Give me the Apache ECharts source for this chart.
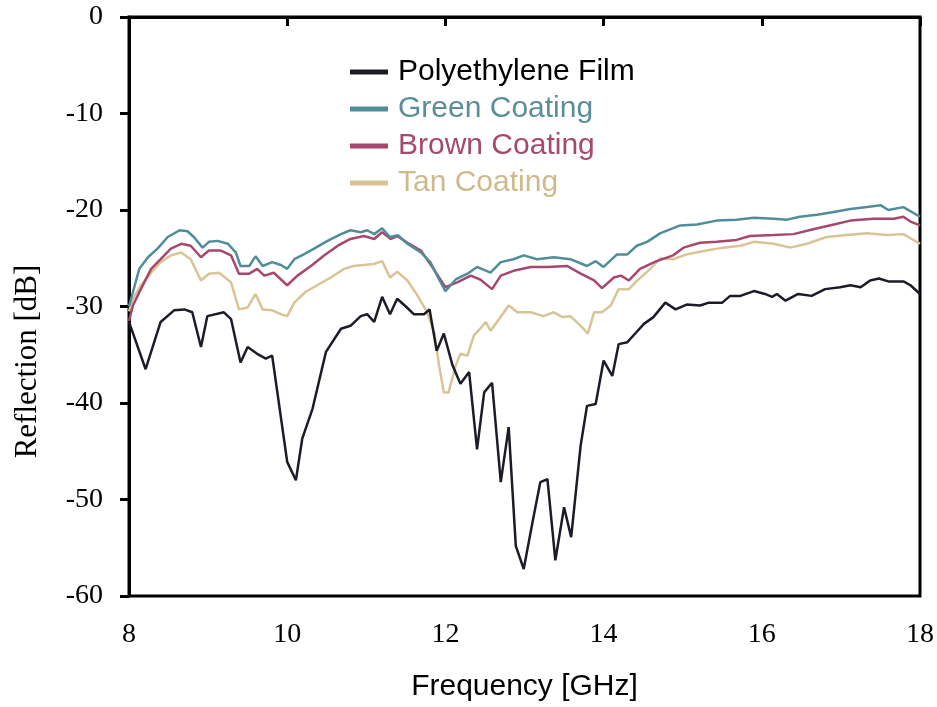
<!DOCTYPE html>
<html>
<head>
<meta charset="utf-8">
<title>Reflection vs Frequency</title>
<script src="https://cdn.jsdelivr.net/npm/echarts@6/dist/echarts.min.js"></script>
<style>
  html, body { margin: 0; padding: 0; background: #fff; }
  #chart { width: 937px; height: 707px; }
</style>
</head>
<body>
<div id="chart"></div>
<script>
// frequency (GHz) / reflection (dB)
const filmFreq = [8.00, 8.21, 8.40, 8.57, 8.70, 8.80, 8.91, 8.99, 9.20, 9.29, 9.41, 9.50, 9.62, 9.73, 9.81,
  10.00, 10.11, 10.19, 10.32, 10.49, 10.68, 10.80, 10.93, 11.01, 11.10, 11.20, 11.30, 11.39, 11.50, 11.60,
  11.73, 11.80, 11.89, 11.98, 12.09, 12.19, 12.30, 12.40, 12.49, 12.59, 12.70, 12.80, 12.89, 12.99, 13.10,
  13.20, 13.29, 13.39, 13.50, 13.59, 13.71, 13.79, 13.90, 14.00, 14.11, 14.19, 14.30, 14.40, 14.51, 14.63,
  14.78, 14.91, 15.05, 15.22, 15.33, 15.50, 15.60, 15.73, 15.90, 16.04, 16.13, 16.19, 16.30, 16.46, 16.63,
  16.80, 16.99, 17.12, 17.25, 17.37, 17.48, 17.60, 17.79, 17.88, 18.00];
const filmDb = [-31.6, -36.5, -31.6, -30.4, -30.3, -30.6, -34.2, -31.0, -30.6, -31.3, -35.8, -34.2, -34.9, -35.4, -35.1,
  -46.1, -48.0, -43.7, -40.6, -34.7, -32.3, -32.0, -31.0, -30.8, -31.6, -29.0, -30.8, -29.2, -30.0, -30.8,
  -30.8, -30.3, -34.6, -32.8, -36.1, -38.0, -36.8, -44.8, -38.9, -37.9, -48.2, -42.5, -54.8, -57.2, -52.4,
  -48.2, -47.9, -56.3, -50.8, -53.9, -44.4, -40.3, -40.1, -35.6, -37.2, -33.9, -33.7, -32.8, -31.8, -31.1,
  -29.6, -30.3, -29.8, -29.9, -29.6, -29.6, -28.9, -28.9, -28.4, -28.7, -29.0, -28.7, -29.4, -28.7, -28.9,
  -28.2, -28.0, -27.8, -28.0, -27.3, -27.1, -27.4, -27.4, -27.8, -28.7];

const greenFreq = [8.00, 8.05, 8.13, 8.24, 8.36, 8.49, 8.64, 8.74, 8.82, 8.93, 9.01, 9.12, 9.25, 9.35, 9.41,
  9.52, 9.60, 9.69, 9.81, 9.92, 10.00, 10.09, 10.21, 10.34, 10.51, 10.68, 10.80, 10.93, 11.01, 11.10,
  11.20, 11.30, 11.40, 11.52, 11.69, 11.81, 11.92, 12.00, 12.13, 12.28, 12.40, 12.57, 12.70, 12.86, 12.99,
  13.16, 13.37, 13.58, 13.79, 13.90, 14.00, 14.17, 14.30, 14.42, 14.55, 14.72, 14.97, 15.18, 15.43, 15.68,
  15.90, 16.15, 16.32, 16.48, 16.70, 16.91, 17.12, 17.33, 17.50, 17.60, 17.79, 18.00];
const greenDb = [-30.0, -28.5, -26.1, -24.9, -24.0, -22.8, -22.1, -22.2, -22.8, -23.9, -23.3, -23.2, -23.5, -24.4, -25.8,
  -25.8, -24.8, -25.8, -25.4, -25.7, -26.1, -25.1, -24.6, -24.0, -23.2, -22.5, -22.1, -22.3, -22.1, -22.5,
  -21.9, -22.8, -22.6, -23.5, -24.4, -25.4, -27.2, -28.4, -27.2, -26.6, -25.9, -26.5, -25.4, -25.1, -24.7,
  -25.1, -24.9, -25.1, -25.8, -25.3, -25.9, -24.6, -24.6, -23.7, -23.3, -22.4, -21.6, -21.5, -21.1, -21.0,
  -20.8, -20.9, -21.0, -20.7, -20.5, -20.2, -19.9, -19.7, -19.5, -20.0, -19.7, -20.7];

const brownFreq = [8.00, 8.05, 8.15, 8.28, 8.40, 8.53, 8.66, 8.78, 8.91, 9.01, 9.16, 9.29, 9.39, 9.52, 9.62,
  9.71, 9.83, 10.00, 10.13, 10.30, 10.47, 10.64, 10.80, 10.97, 11.10, 11.20, 11.31, 11.39, 11.52, 11.69,
  11.85, 12.00, 12.15, 12.32, 12.44, 12.59, 12.70, 12.86, 13.08, 13.29, 13.54, 13.71, 13.88, 13.98, 14.13,
  14.22, 14.32, 14.46, 14.67, 14.88, 15.01, 15.22, 15.43, 15.68, 15.85, 16.15, 16.40, 16.65, 16.91, 17.12,
  17.41, 17.67, 17.79, 17.88, 18.00];
const brownDb = [-31.5, -29.9, -28.2, -26.1, -25.1, -24.0, -23.5, -23.7, -24.9, -24.2, -24.2, -24.7, -26.6, -26.6, -26.1,
  -26.8, -26.5, -27.8, -26.8, -25.8, -24.7, -23.7, -23.0, -22.7, -23.0, -22.3, -23.0, -22.7, -23.4, -24.2,
  -26.1, -28.0, -27.5, -26.8, -27.2, -28.2, -26.8, -26.3, -25.9, -25.9, -25.8, -26.6, -27.3, -28.1, -27.0,
  -26.8, -27.3, -26.1, -25.3, -24.7, -23.9, -23.4, -23.3, -23.1, -22.7, -22.6, -22.5, -22.0, -21.5, -21.1,
  -20.9, -20.9, -20.7, -21.2, -21.6];

const tanFreq = [8.00, 8.05, 8.15, 8.28, 8.40, 8.53, 8.66, 8.78, 8.91, 9.01, 9.14, 9.29, 9.39, 9.50, 9.60,
  9.69, 9.81, 9.92, 10.00, 10.09, 10.23, 10.38, 10.55, 10.72, 10.84, 10.97, 11.10, 11.20, 11.30, 11.39,
  11.52, 11.65, 11.77, 11.86, 11.92, 11.98, 12.04, 12.13, 12.19, 12.28, 12.36, 12.44, 12.51, 12.57, 12.68,
  12.80, 12.91, 13.08, 13.24, 13.37, 13.48, 13.58, 13.71, 13.80, 13.88, 13.98, 14.09, 14.19, 14.32, 14.44,
  14.59, 14.72, 14.88, 15.05, 15.30, 15.51, 15.73, 15.90, 16.15, 16.36, 16.57, 16.82, 17.07, 17.33, 17.58,
  17.79, 18.00];
const tanDb = [-30.5, -29.2, -27.8, -26.5, -25.4, -24.7, -24.4, -25.1, -27.3, -26.6, -26.5, -27.5, -30.3, -30.1, -28.7,
  -30.3, -30.4, -30.8, -31.0, -29.6, -28.5, -27.8, -27.0, -26.1, -25.8, -25.7, -25.6, -25.3, -27.0, -26.4,
  -27.3, -28.9, -30.6, -32.7, -36.1, -38.9, -38.9, -36.1, -34.9, -35.1, -33.0, -32.3, -31.6, -32.5, -31.3,
  -29.9, -30.6, -30.6, -31.0, -30.6, -31.1, -31.0, -32.0, -32.8, -30.6, -30.6, -29.9, -28.2, -28.2, -27.2,
  -26.1, -25.0, -25.1, -24.6, -24.2, -23.9, -23.7, -23.3, -23.5, -23.9, -23.5, -22.8, -22.6, -22.4, -22.6,
  -22.5, -23.5];

const seriesNames = ['Polyethylene Film', 'Green Coating', 'Brown Coating', 'Tan Coating'];
const lineColors = ['#1c1c28', '#4f8d9a', '#a8476e', '#d8c496'];
const textColors = ['#000000', '#5a8e99', '#a54a6d', '#cfba8c'];

const zip = (xs, ys) => xs.map((x, i) => [x, ys[i]]);
const allData = [
  zip(filmFreq, filmDb),
  zip(greenFreq, greenDb),
  zip(brownFreq, brownDb),
  zip(tanFreq, tanDb)
];

const chart = echarts.init(document.getElementById('chart'));

const serif = '"Liberation Serif", "Times New Roman", serif';
const sans = '"Liberation Sans", Arial, sans-serif';

const option = {
  animation: false,
  backgroundColor: '#ffffff',
  grid: {
    left: 129,
    right: 17,
    top: 17,
    bottom: 110,
    show: true,
    borderColor: '#000',
    borderWidth: 3
  },
  legend: {
    orient: 'vertical',
    left: 345,
    top: 52,
    itemWidth: 38,
    itemHeight: 5,
    itemGap: 7,
    icon: 'rect',
    textStyle: {
      fontFamily: sans,
      fontSize: 30,
      padding: [0, 0, 0, 5]
    },
    data: seriesNames.map((n, i) => ({
      name: n,
      itemStyle: { color: lineColors[i] },
      textStyle: { color: textColors[i] }
    }))
  },
  xAxis: {
    type: 'value',
    min: 8,
    max: 18,
    interval: 2,
    name: 'Frequency [GHz]',
    nameLocation: 'middle',
    nameGap: 76,
    nameTextStyle: { fontFamily: sans, fontSize: 30, color: '#000' },
    axisLine: { show: true, lineStyle: { color: '#000', width: 3 } },
    axisTick: { show: true, inside: false, length: 9, lineStyle: { color: '#000', width: 3 } },
    axisLabel: { fontFamily: serif, fontSize: 28, color: '#000', margin: 25 },
    splitLine: { show: false }
  },
  yAxis: {
    type: 'value',
    min: -60,
    max: 0,
    interval: 10,
    name: 'Reflection [dB]',
    nameLocation: 'middle',
    nameGap: 86,
    nameTextStyle: { fontFamily: serif, fontSize: 31, color: '#000', padding: [0, 110, 0, 0] },
    axisLine: { show: true, lineStyle: { color: '#000', width: 3 } },
    axisTick: { show: true, inside: false, length: 9, lineStyle: { color: '#000', width: 3 } },
    axisLabel: { fontFamily: serif, fontSize: 28, color: '#000', margin: 26 },
    splitLine: { show: false }
  },
  series: allData.map((d, i) => ({
    name: seriesNames[i],
    type: 'line',
    data: d,
    showSymbol: false,
    color: lineColors[i],
    lineStyle: { color: lineColors[i], width: 2.5 },
    z: 10 - i
  }))
};

chart.setOption(option);
window.addEventListener('resize', () => chart.resize());
</script>
</body>
</html>
